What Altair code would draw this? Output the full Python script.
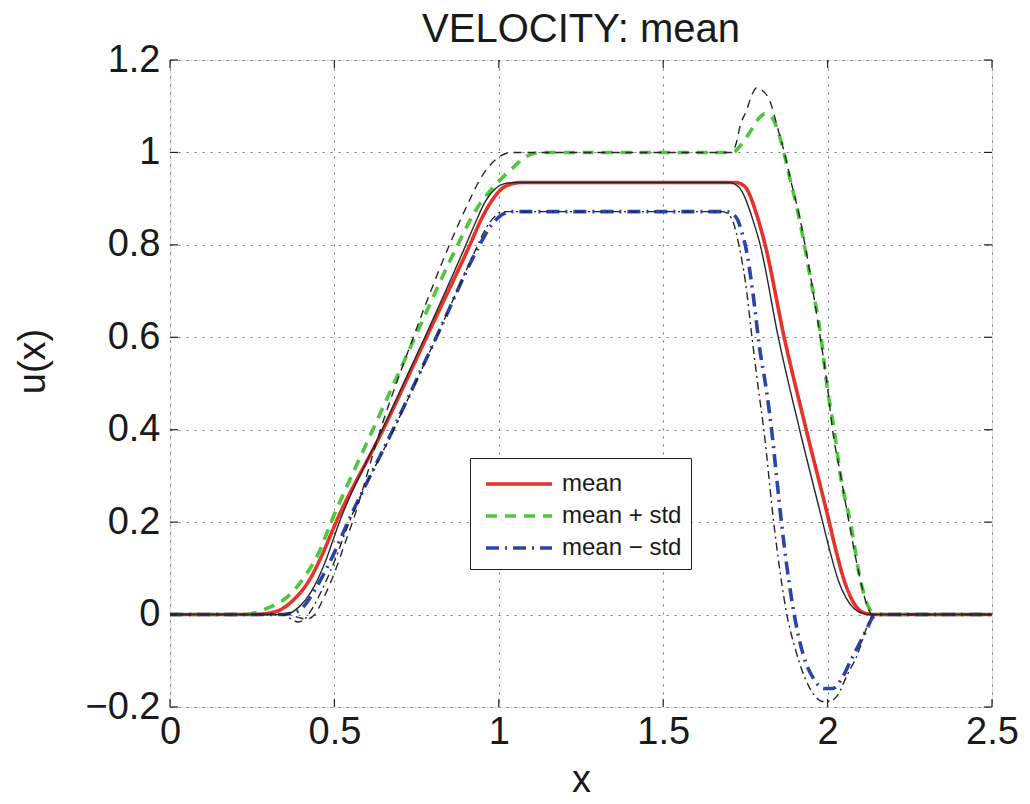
import altair as alt
import pandas as pd

# ---- data ----
x_ticks = [0, 0.5, 1, 1.5, 2, 2.5]
y_ticks = [-0.2, 0, 0.2, 0.4, 0.6, 0.8, 1, 1.2]

series_names = ["mean", "mean + std", "mean \u2212 std"]

mean_x = [0, 0.25, 0.30, 0.34, 0.38, 0.42, 0.46, 0.505, 0.648, 0.78, 0.912, 0.95, 0.98, 1.01, 1.04, 1.07,
          1.72, 1.75, 1.765, 1.78, 1.81, 1.868, 1.935, 2.005, 2.025, 2.05, 2.072, 2.092, 2.12, 2.15, 2.5]
mean_y = [0, 0, 0.003, 0.012, 0.035, 0.07, 0.125, 0.2, 0.4, 0.6, 0.8, 0.86, 0.897, 0.922, 0.932, 0.935,
          0.935, 0.925, 0.905, 0.875, 0.8, 0.6, 0.4, 0.2, 0.14, 0.075, 0.035, 0.013, 0.002, 0, 0]

plus_x = [0, 0.22, 0.26, 0.30, 0.355, 0.416, 0.45, 0.49, 0.617, 0.745, 0.875, 0.93, 0.99, 1.04, 1.08, 1.13,
          1.711, 1.735, 1.763, 1.79, 1.81, 1.83, 1.86, 1.88, 1.915, 1.945, 1.98, 2.0, 2.02, 2.04, 2.07,
          2.10, 2.135, 2.15, 2.5]
plus_y = [0, 0, 0.004, 0.015, 0.037, 0.089, 0.13, 0.2, 0.4, 0.6, 0.8, 0.875, 0.93, 0.965, 0.99, 1.0,
          1.0, 1.015, 1.043, 1.073, 1.084, 1.076, 1.02, 0.96, 0.853, 0.738, 0.6, 0.485, 0.4, 0.297, 0.197,
          0.074, 0.005, 0, 0]

minus_x = [0, 0.33, 0.36, 0.395, 0.446, 0.497, 0.541, 0.678, 0.81, 0.942, 0.97, 1.0, 1.04,
           1.69, 1.715, 1.727, 1.74, 1.753, 1.773, 1.793, 1.814, 1.83, 1.845, 1.86, 1.875, 1.90, 1.925,
           1.955, 1.99, 2.015, 2.045, 2.07, 2.097, 2.12, 2.14, 2.16, 2.5]
minus_y = [0, 0, 0.002, 0.01, 0.06, 0.13, 0.2, 0.4, 0.6, 0.8, 0.835, 0.86, 0.872,
           0.872, 0.865, 0.853, 0.825, 0.788, 0.695, 0.578, 0.485, 0.398, 0.297, 0.197, 0.11, -0.006, -0.085,
           -0.136, -0.16, -0.16, -0.136, -0.10, -0.063, -0.03, -0.004, 0, 0]

# thin black reference curves (not in legend)
ref_mean_x = [0, 0.35, 0.39, 0.43, 0.47, 0.515, 0.645, 0.775, 0.90, 0.93, 0.96, 0.99, 1.02, 1.05,
              1.70, 1.73, 1.75, 1.77, 1.795, 1.85, 1.915, 1.985, 2.008, 2.032, 2.057, 2.082, 2.11, 2.14, 2.5]
ref_mean_y = [0, 0, 0.015, 0.05, 0.11, 0.2, 0.4, 0.6, 0.8, 0.85, 0.895, 0.922, 0.933, 0.935,
              0.935, 0.925, 0.9, 0.86, 0.8, 0.6, 0.4, 0.2, 0.135, 0.075, 0.035, 0.012, 0.002, 0, 0]

ref_plus_x = [0, 0.36, 0.39, 0.415, 0.44, 0.47, 0.50, 0.53, 0.555, 0.64, 0.74, 0.85, 0.90, 0.95, 1.0, 1.04,
              1.705, 1.72, 1.735, 1.753, 1.77, 1.784, 1.80, 1.824, 1.85, 1.869, 1.89, 1.915, 1.94, 1.96,
              1.976, 2.0, 2.015, 2.04, 2.065, 2.095, 2.12, 2.135, 2.5]
ref_plus_y = [0, 0, -0.006, -0.01, 0.0, 0.04, 0.09, 0.15, 0.2, 0.4, 0.6, 0.8, 0.88, 0.95, 0.99, 1.0,
              1.0, 1.015, 1.06, 1.09, 1.125, 1.14, 1.135, 1.112, 1.048, 0.998, 0.933, 0.86, 0.766, 0.68,
              0.608, 0.49, 0.4, 0.30, 0.2, 0.09, 0.02, 0, 0]

ref_minus_x = [0, 0.34, 0.365, 0.39, 0.41, 0.43, 0.46, 0.50, 0.545, 0.68, 0.81, 0.93, 0.96, 0.99, 1.01,
               1.68, 1.70, 1.715, 1.73, 1.75, 1.77, 1.79, 1.806, 1.836, 1.862, 1.876, 1.90, 1.93, 1.96,
               1.985, 2.01, 2.03, 2.06, 2.09, 2.118, 2.14, 2.5]
ref_minus_y = [0, 0, -0.008, -0.016, -0.01, 0.01, 0.05, 0.115, 0.2, 0.4, 0.6, 0.79, 0.835, 0.863, 0.872,
               0.872, 0.865, 0.845, 0.80, 0.72, 0.60, 0.485, 0.40, 0.20, 0.06, 0.0, -0.07, -0.135, -0.175,
               -0.188, -0.187, -0.175, -0.13, -0.088, -0.03, 0, 0]

# ---- tables ----
def frame(xs, ys, name):
    return pd.DataFrame({"x": xs, "y": ys, "series": name})

main_df = pd.concat([
    frame(mean_x, mean_y, series_names[0]),
    frame(plus_x, plus_y, series_names[1]),
    frame(minus_x, minus_y, series_names[2]),
], ignore_index=True)

FONT = "Liberation Sans"
W, H = 822, 647

xscale = alt.Scale(domain=[0, 2.5], nice=False, zero=False)
yscale = alt.Scale(domain=[-0.2, 1.2], nice=False, zero=False)

grid_kw = dict(grid=True, gridColor="#777", gridDash=[2, 6], gridWidth=1.1,
               ticks=False, domain=False, labelFont=FONT, labelFontSize=38,
               labelColor="#1a1a1a", titleFont=FONT, titleFontSize=38,
               titleFontWeight="normal", titleColor="#1a1a1a",
               labelFlush=False, labelOverlap=False)

xaxis = alt.Axis(values=x_ticks, format=".1~f", title="x", labelPadding=6,
                 titleY=84, titleBaseline="alphabetic", **grid_kw)
yaxis = alt.Axis(values=y_ticks, format=".1~f", title="u(x)", labelPadding=10,
                 titleX=-118, titleY=301, titleBaseline="bottom", **grid_kw)

legend = alt.Legend(title=None, orient="none", legendX=300, legendY=398,
                    strokeColor="#222", fillColor="white", padding=9,
                    symbolType="M-2.2,0H2.2", symbolSize=900, symbolOffset=23,
                    symbolStrokeWidth=3.5, labelOffset=26, rowPadding=3,
                    labelFont=FONT, labelFontSize=24, labelColor="#1a1a1a")

colored = alt.Chart(main_df).mark_line(strokeWidth=3.6, interpolate="monotone").encode(
    x=alt.X("x:Q", scale=xscale, axis=xaxis),
    y=alt.Y("y:Q", scale=yscale, axis=yaxis),
    color=alt.Color("series:N", sort=series_names,
                    scale=alt.Scale(domain=series_names,
                                    range=["#e6322a", "#4dc83c", "#2a44a8"]),
                    legend=legend),
    strokeDash=alt.StrokeDash("series:N", sort=series_names,
                              scale=alt.Scale(domain=series_names,
                                              range=[[1, 0], [11, 8], [13, 6, 2, 6]]),
                              legend=legend),
)

def black(xs, ys, dash):
    kw = dict(color="#262626", strokeWidth=1.4, interpolate="monotone")
    if dash:
        kw["strokeDash"] = dash
    return alt.Chart(frame(xs, ys, "ref")).mark_line(**kw).encode(
        x=alt.X("x:Q", scale=xscale), y=alt.Y("y:Q", scale=yscale))

ref_mean = black(ref_mean_x, ref_mean_y, None)
ref_plus = black(ref_plus_x, ref_plus_y, [8, 6])
ref_minus = black(ref_minus_x, ref_minus_y, [8, 4, 2, 4])

# inward MATLAB-style tick marks
xt = pd.DataFrame({"x": x_ticks})
yt = pd.DataFrame({"y": y_ticks})
tick_style = dict(color="#222", strokeWidth=1.2)
tx_bottom = alt.Chart(xt).mark_rule(**tick_style).encode(
    x=alt.X("x:Q", scale=xscale), y=alt.value(H), y2=alt.value(H - 8))
tx_top = alt.Chart(xt).mark_rule(**tick_style).encode(
    x=alt.X("x:Q", scale=xscale), y=alt.value(0), y2=alt.value(8))
ty_left = alt.Chart(yt).mark_rule(**tick_style).encode(
    y=alt.Y("y:Q", scale=yscale), x=alt.value(0), x2=alt.value(8))
ty_right = alt.Chart(yt).mark_rule(**tick_style).encode(
    y=alt.Y("y:Q", scale=yscale), x=alt.value(W), x2=alt.value(W - 8))

chart = alt.layer(
    colored, ref_mean, ref_plus, ref_minus, tx_bottom, tx_top, ty_left, ty_right
).properties(
    width=W, height=H,
    autosize=alt.AutoSizeParams(type="none"),
    padding={"left": 162, "top": 52, "right": 28, "bottom": 88},
    title=alt.Title("VELOCITY: mean", font=FONT, fontSize=40, fontWeight="normal",
                    color="#1a1a1a", offset=-9, anchor="middle"),
).configure_view(
    stroke="#222", strokeWidth=1.5
).configure(background="white")

chart.save("out.html", embed_options={"renderer": "svg", "actions": False})
